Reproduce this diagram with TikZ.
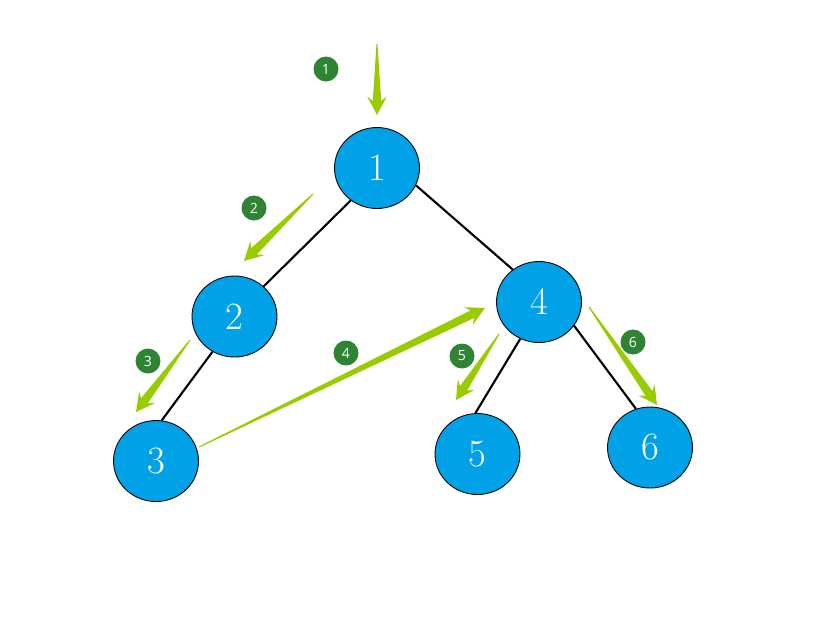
\documentclass[tikz,border=0pt]{standalone}
\usepackage{fontspec}
\newfontfamily\badgefont{Open Sans}
\usetikzlibrary{calc,shapes.geometric}

\definecolor{nodeblue}{RGB}{0,161,230}
\definecolor{walkgreen}{RGB}{153,204,0}
\definecolor{badgegreen}{RGB}{47,132,52}

\newcommand\taperarrow[2]{%
  \fill[walkgreen]
    ($(#1)!0.3pt!90:(#2)$) -- ($($(#2)!8pt!(#1)$)!2.4pt!90:(#2)$)
    -- ($($(#2)!10.5pt!(#1)$)!5.6pt!90:(#2)$) -- (#2)
    -- ($($(#2)!10.5pt!(#1)$)!5.6pt!-90:(#2)$)
    -- ($($(#2)!8pt!(#1)$)!2.4pt!-90:(#2)$) -- ($(#1)!0.3pt!-90:(#2)$) -- cycle;}

\begin{document}
\begin{tikzpicture}[
    x=0.02cm, y=-0.02cm,
    vertex/.style={ellipse, draw, line width=0.5pt, fill=nodeblue, text=white,
      minimum width=1.7cm, minimum height=1.62cm, inner sep=0pt,
      font=\fontsize{22}{26}\selectfont},
    badge/.style={circle, fill=badgegreen, text=white, minimum size=0.5cm,
      inner sep=0pt, font=\badgefont\fontsize{8}{9}\selectfont},
    edge/.style={line width=1.2pt}
]
\useasboundingbox (0,0) rectangle (814,620);

\node[vertex] (n1) at (377,168) {1};
\node[vertex] (n2) at (234.5,316.5) {2};
\node[vertex] (n3) at (156,461) {3};
\node[vertex] (n4) at (539,302) {4};
\node[vertex] (n5) at (477.5,454) {5};
\node[vertex] (n6) at (650,447.5) {6};

\draw[edge] (n1.231) -- (n2.46);
\draw[edge] (n1.336) -- (n4.129);
\draw[edge] (n2.238) -- (n3.82);
\draw[edge] (n4.243) -- (n5.93);
\draw[edge] (n4.326) -- (n6.110);

\coordinate (s1) at (377,44);  \coordinate (t1) at (377,115);
\coordinate (s2) at (313,194); \coordinate (t2) at (244,261);
\coordinate (s3) at (190,340); \coordinate (t3) at (136,412);
\coordinate (s4) at (199,447); \coordinate (t4) at (485,308);
\coordinate (s5) at (499,334); \coordinate (t5) at (456,400);
\coordinate (s6) at (589,307); \coordinate (t6) at (657,405);
\foreach \i in {1,...,6}{\taperarrow{s\i}{t\i}}

\node[badge] (b1) at (326,69) {1};
\node[badge] (b2) at (254,208) {2};
\node[badge] (b3) at (148,361) {3};
\node[badge] (b4) at (346,353) {4};
\node[badge] (b5) at (462,356) {5};
\node[badge] (b6) at (633,342) {6};
\end{tikzpicture}
\end{document}
